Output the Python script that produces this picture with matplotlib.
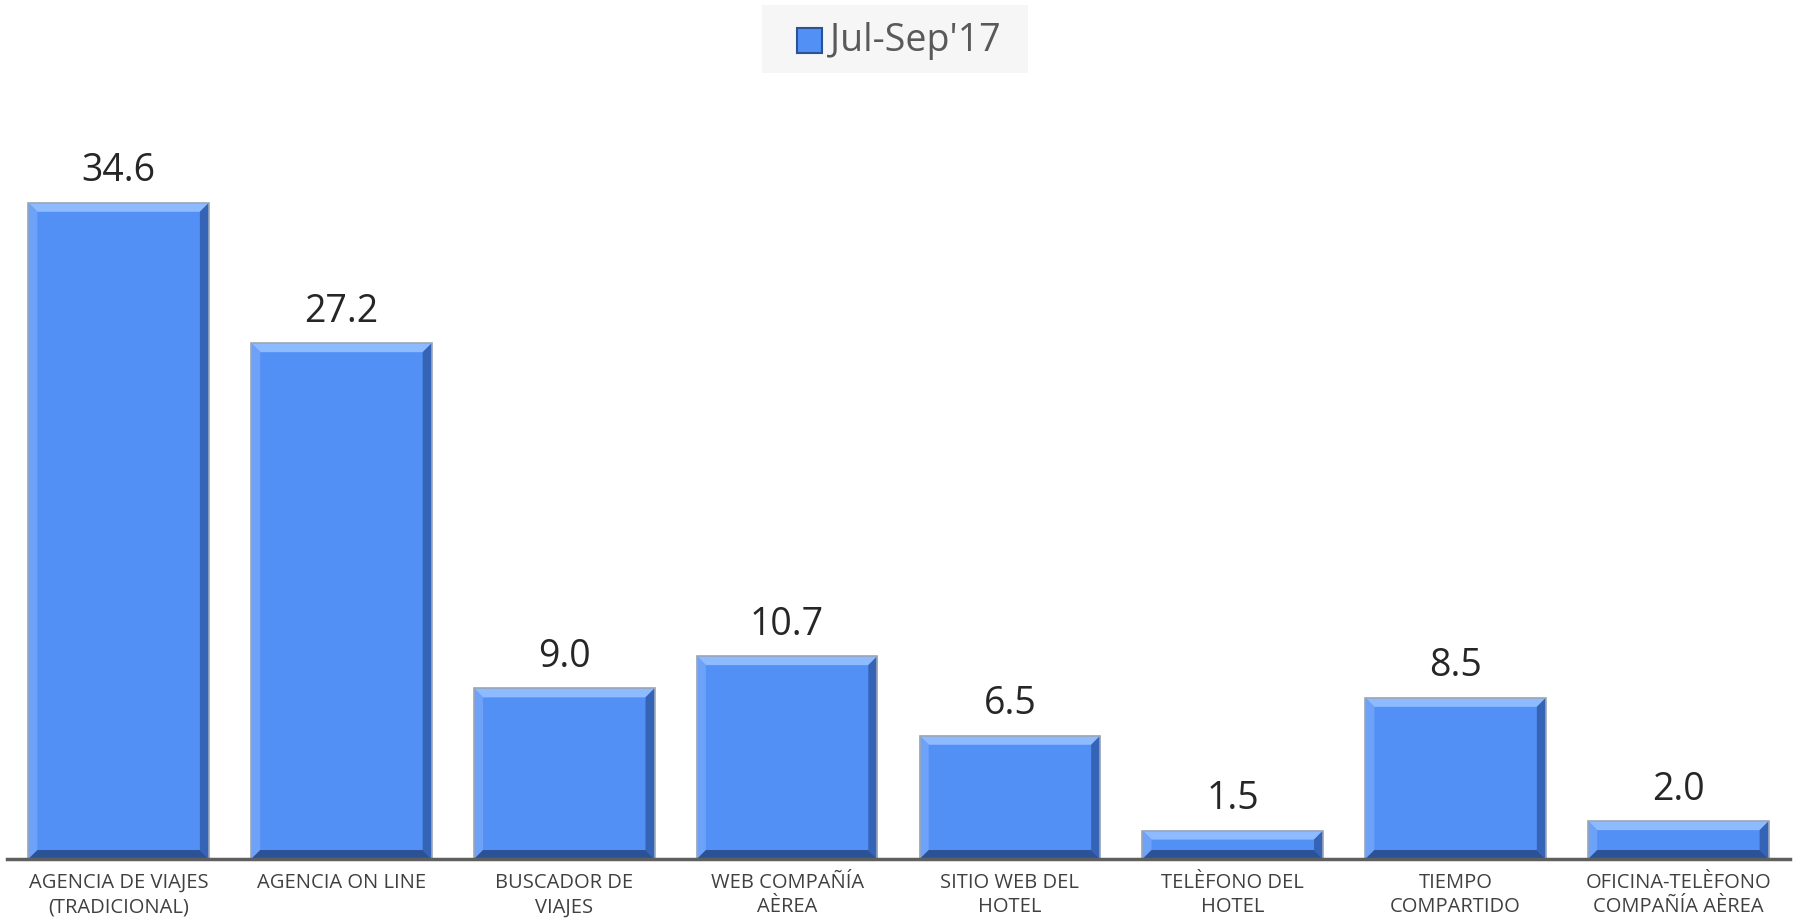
import matplotlib
matplotlib.use('Agg')
import matplotlib.pyplot as plt
from matplotlib.patches import Polygon, Rectangle
from matplotlib.transforms import IdentityTransform
import numpy as np

categories = ['AGENCIA DE VIAJES\n(TRADICIONAL)', 'AGENCIA ON LINE', 'BUSCADOR DE\nVIAJES',
              'WEB COMPAÑÍA\nAÈREA', 'SITIO WEB DEL\nHOTEL', 'TELÈFONO DEL\nHOTEL',
              'TIEMPO\nCOMPARTIDO', 'OFICINA-TELÈFONO\nCOMPAÑÍA AÈREA']
values = [34.6, 27.2, 9.0, 10.7, 6.5, 1.5, 8.5, 2.0]
series = "Jul-Sep'17"

base = '#5390F6'
light = '#8EBBFF'
mid_light = '#6EA2F8'
dark = '#3563B5'
darker = '#2C5296'

fig = plt.figure(figsize=(17.97, 9.24), dpi=100)
ax = fig.add_axes([0.004, 0.0703, 0.992, 0.78])
pos = np.arange(len(values))
bars = ax.bar(pos, values, 0.81, color=base, edgecolor='none')
ax.set_xlim(-0.5, len(values) - 0.5)
ax.set_ylim(0, 38)

for s in ['top', 'right', 'left']:
    ax.spines[s].set_visible(False)
ax.spines['bottom'].set_color('#5f5f5f')
ax.spines['bottom'].set_linewidth(2.5)
ax.set_yticks([])
ax.set_xticks(pos)
ax.set_xticklabels(categories, fontsize=14.5, color='#404040', family='Open Sans', linespacing=1.3)
ax.tick_params(axis='x', length=0, pad=10)

# bevel effect on each bar, built from the bar geometry
b = 9
for p in bars:
    X0, Y0 = ax.transData.transform((p.get_x(), 0))
    X1, Y1 = ax.transData.transform((p.get_x() + p.get_width(), p.get_height()))
    bb = min(b, (Y1 - Y0) / 2.2)
    polys = [
        ([(X0, Y1), (X1, Y1), (X1 - bb, Y1 - bb), (X0 + bb, Y1 - bb)], light),
        ([(X0, Y0), (X0, Y1), (X0 + bb, Y1 - bb), (X0 + bb, Y0 + bb)], mid_light),
        ([(X1, Y0), (X1, Y1), (X1 - bb, Y1 - bb), (X1 - bb, Y0 + bb)], dark),
        ([(X0, Y0), (X1, Y0), (X1 - bb, Y0 + bb), (X0 + bb, Y0 + bb)], darker),
    ]
    for pts, c in polys:
        ax.add_patch(Polygon(pts, closed=True, facecolor=c, edgecolor='none',
                             transform=IdentityTransform(), clip_on=False))
    ax.add_patch(Rectangle((X0, Y0), X1 - X0, Y1 - Y0, fill=False, edgecolor='#9aa6b8',
                           linewidth=1.2, transform=IdentityTransform(), clip_on=False))

for p, v in zip(bars, values):
    ax.annotate(f'{v:.1f}', (p.get_x() + p.get_width() / 2, v), xytext=(0, 9),
                textcoords='offset points', ha='center', va='bottom',
                fontsize=27, color='#262626', family='Open Sans')

# legend
fig.patches.append(Rectangle((762 / 1797, 1 - 73 / 924), 266 / 1797, 68 / 924,
                             transform=fig.transFigure, facecolor='#f6f6f6', edgecolor='none'))
fig.patches.append(Rectangle((797 / 1797, 1 - 53 / 924), 25 / 1797, 25 / 924,
                             transform=fig.transFigure, facecolor=base, edgecolor='#2C5296', linewidth=1.5))
fig.text(830 / 1797, 1 - 41 / 924, series, fontsize=27, color='#595959',
         family='Open Sans', va='center', ha='left')

fig.savefig('out.png', dpi=100)
